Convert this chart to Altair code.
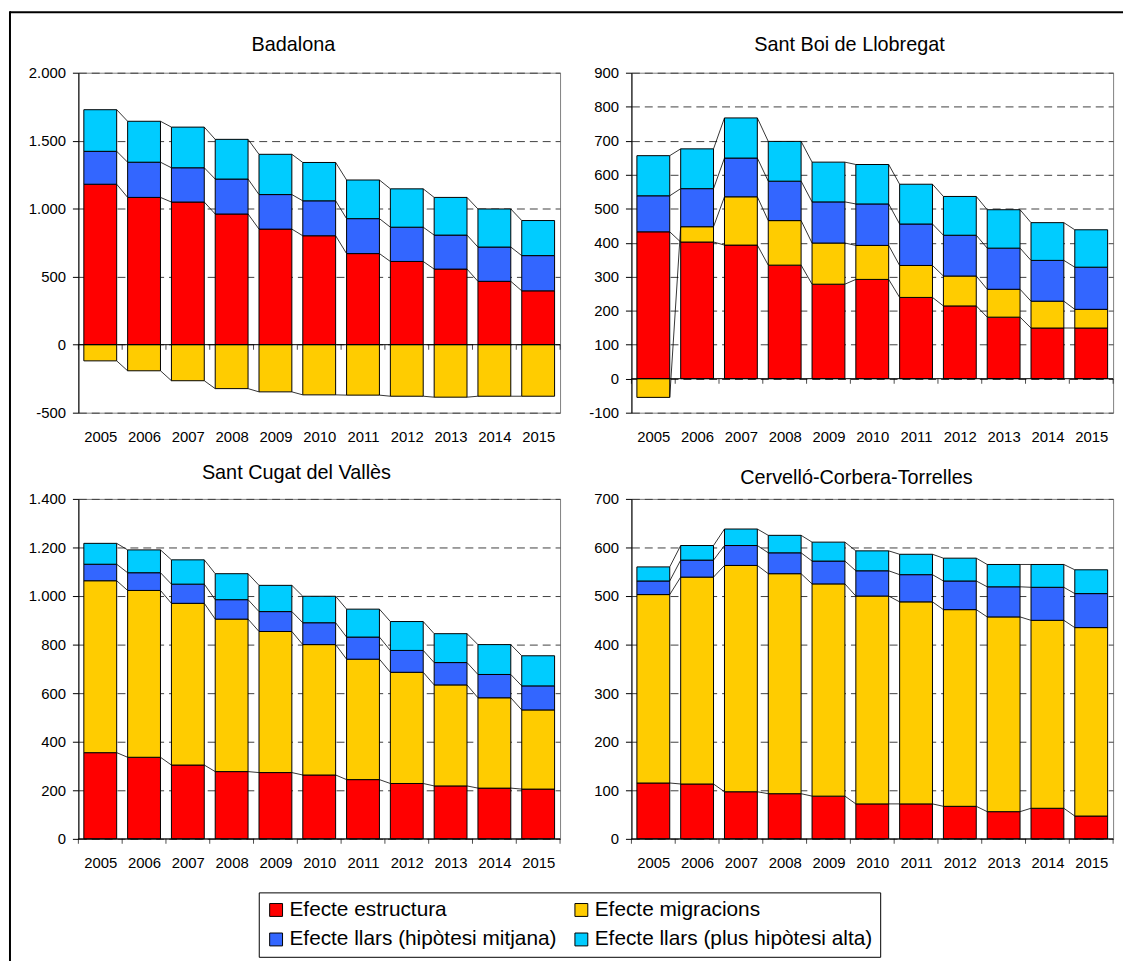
import altair as alt
import pandas as pd

years = list(range(2005, 2016))
series_names = [
    "Efecte estructura",
    "Efecte migracions",
    "Efecte llars (hipòtesi mitjana)",
    "Efecte llars (plus hipòtesi alta)",
]
series_colors = ["#FF0000", "#FFCC00", "#3366FF", "#00CCFF"]

# Badalona
badalona_estructura = [1180, 1083, 1049, 961, 850, 801, 670, 612, 556, 466, 396]
badalona_migracions = [-119, -192, -265, -323, -347, -369, -371, -379, -386, -379, -379]
badalona_mitjana = [242, 259, 252, 257, 254, 257, 257, 252, 250, 252, 259]
badalona_alta = [306, 301, 299, 292, 296, 282, 284, 282, 277, 280, 258]

# Sant Boi de Llobregat
santboi_estructura = [432, 402, 393, 334, 278, 292, 239, 214, 181, 149, 149]
santboi_migracions = [-55, 45, 142, 131, 121, 100, 94, 88, 82, 79, 55]
santboi_mitjana = [106, 112, 114, 116, 121, 122, 122, 120, 121, 120, 124]
santboi_alta = [118, 117, 118, 117, 117, 116, 117, 114, 113, 111, 110]

# Sant Cugat del Vallès
santcugat_estructura = [355, 336, 304, 277, 273, 263, 244, 228, 218, 209, 205]
santcugat_migracions = [708, 687, 666, 628, 581, 537, 496, 458, 416, 372, 326]
santcugat_mitjana = [68, 73, 79, 80, 82, 90, 91, 90, 92, 96, 99]
santcugat_alta = [86, 94, 100, 107, 108, 109, 115, 119, 119, 123, 124]

# Cervelló-Corbera-Torrelles
cervello_estructura = [115, 113, 97, 93, 88, 72, 72, 67, 56, 63, 47]
cervello_migracions = [388, 426, 466, 453, 437, 428, 416, 405, 401, 387, 388]
cervello_mitjana = [28, 35, 41, 43, 47, 52, 56, 59, 62, 68, 70]
cervello_alta = [29, 30, 34, 36, 39, 41, 42, 47, 46, 47, 49]

FONT = "Liberation Sans"
HALF = 0.375
PW, PH = 486, 343

# legend fills column by column: put items so rows read as in the original
legend_order = [0, 2, 1, 3]
legend_domain = [series_names[i] for i in legend_order]
legend_range = [series_colors[i] for i in legend_order]


def stacks(values_by_series):
    rows, conns = [], []
    ends = {s: [] for s in series_names}
    for i, yr in enumerate(years):
        pos, neg = 0, 0
        for s, vals in zip(series_names, values_by_series):
            v = vals[i]
            if v >= 0:
                y0, y1 = pos, pos + v
                pos = y1
            else:
                y0, y1 = neg, neg + v
                neg = y1
            rows.append(dict(year=yr, x0=yr - HALF, x1=yr + HALF, y0=y0, y1=y1, series=s))
            ends[s].append(y1)
    for s in series_names:
        e = ends[s]
        for i in range(len(years) - 1):
            conns.append(dict(xa=years[i] + HALF, xb=years[i + 1] - HALF, ya=e[i], yb=e[i + 1]))
    return pd.DataFrame(rows), pd.DataFrame(conns)


label_expr = "replace(replace(format(datum.value, ','), ',', '.'), '\u2212', '-')"

legend = alt.Legend(
    orient="none", legendX=182, legendY=827, columns=2, title=None,
    symbolType="square", symbolSize=169, symbolStrokeColor="black", symbolStrokeWidth=1,
    symbolOpacity=1, labelFont=FONT, labelFontSize=21, labelColor="black", labelLimit=500,
    labelOffset=3, columnPadding=14, rowPadding=8, padding=7,
    strokeColor="black", fillColor="white",
)
color_scale = alt.Scale(domain=legend_domain, range=legend_range)


def panel(values_by_series, title, dx, offset, lo, hi, step):
    bars, conns = stacks(values_by_series)
    xs = alt.Scale(domain=[2004.5, 2015.5], nice=False, zero=False)
    ys = alt.Scale(domain=[lo, hi], nice=False, zero=False)
    yticks = list(range(lo, hi + 1, step))
    xaxis = alt.Axis(values=years, format="d", ticks=False, domain=False, grid=False,
                     labelFont=FONT, labelFontSize=15, labelColor="black", labelPadding=17,
                     labelFlush=False, labelOverlap=False, title=None, tickCount=40)
    yaxis = alt.Axis(values=yticks, tickCount=40, labelExpr=label_expr, grid=True,
                     gridDash=[8, 5], gridColor="#404040", gridWidth=1,
                     domainColor="black", tickColor="black", labelOverlap=False,
                     tickSize=6, labelFont=FONT, labelFontSize=15, labelColor="black",
                     labelPadding=7, title=None)
    b = alt.Chart(bars).mark_bar(stroke="black", strokeWidth=1).encode(
        x=alt.X("x0:Q", scale=xs, axis=xaxis),
        x2="x1:Q",
        y=alt.Y("y0:Q", scale=ys, axis=yaxis),
        y2="y1:Q",
        color=alt.Color("series:N", scale=color_scale, legend=legend),
    )
    c = alt.Chart(conns).mark_rule(color="black", strokeWidth=0.8).encode(
        x="xa:Q", x2="xb:Q", y="ya:Q", y2="yb:Q"
    )
    zero = alt.Chart(pd.DataFrame({"z": [0]})).mark_rule(color="black", strokeWidth=1).encode(
        y="z:Q"
    )
    bounds = [years[0] - 0.5] + [y + 0.5 for y in years]
    tk = alt.Chart(pd.DataFrame({"b": bounds, "z": [0] * len(bounds)})).mark_tick(
        orient="vertical", size=5, thickness=1, color="black", yOffset=2.5
    ).encode(x="b:Q", y="z:Q")
    return alt.layer(b, c, zero, tk).properties(
        width=PW, height=PH,
        title=alt.TitleParams(text=title, fontSize=20, fontWeight="normal", font=FONT,
                              color="black", anchor="middle", frame="group", dx=dx,
                              offset=offset, baseline="bottom"),
    )


p1 = panel([badalona_estructura, badalona_migracions, badalona_mitjana, badalona_alta],
           "Badalona", -26, -9, -500, 2000, 500)
p2 = panel([santboi_estructura, santboi_migracions, santboi_mitjana, santboi_alta],
           "Sant Boi de Llobregat", -23, -9, -100, 900, 100)
p3 = panel([santcugat_estructura, santcugat_migracions, santcugat_mitjana, santcugat_alta],
           "Sant Cugat del Vallès", -23, -11, 0, 1400, 200)
p4 = panel([cervello_estructura, cervello_migracions, cervello_mitjana, cervello_alta],
           "Cervelló-Corbera-Torrelles", -16, -16, 0, 700, 100)

one = pd.DataFrame({"a": [0]})
frame_top = alt.Chart(one).mark_rule(color="black", strokeWidth=2).encode(
    x=alt.value(-69), x2=alt.value(1054), y=alt.value(-921)
)
frame_left = alt.Chart(one).mark_rule(color="black", strokeWidth=2).encode(
    x=alt.value(-69), y=alt.value(-922), y2=alt.value(38)
)
frame = alt.layer(frame_top, frame_left).properties(
    width=PW, height=1, view=alt.ViewBackground(stroke="transparent")
)

chart = alt.concat(
    p1, p2, p3, p4, frame, columns=2, spacing={"row": 87, "column": 72}, bounds="flush"
).properties(
    padding={"left": 0, "top": -3, "right": 0, "bottom": 0}
).configure(font=FONT).configure_view(stroke="#808080", strokeWidth=1)

chart.save("out.html", embed_options={"renderer": "svg", "actions": False})
